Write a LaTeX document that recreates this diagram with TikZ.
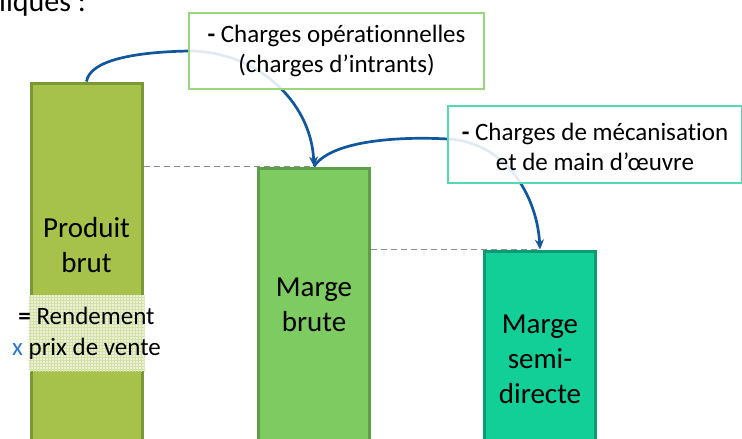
\documentclass[tikz,border=0pt]{standalone}
\usepackage{fontspec}
\setmainfont{Carlito}[Ligatures=NoCommon]
\usetikzlibrary{arrows.meta,calc}
\definecolor{barAf}{HTML}{A6C24A}
\definecolor{barAd}{HTML}{7A9835}
\definecolor{barBf}{HTML}{7ECB62}
\definecolor{barBd}{HTML}{5F9E48}
\definecolor{barCf}{HTML}{12CF98}
\definecolor{barCd}{HTML}{0E9B74}
\definecolor{boxAd}{HTML}{9CD67C}
\definecolor{boxBd}{HTML}{55D9B2}
\definecolor{arrowc}{HTML}{10579E}
\definecolor{dashc}{HTML}{8C8C8C}
\definecolor{xblue}{HTML}{2E75D6}
\definecolor{patf}{HTML}{EBF1D4}
\definecolor{patl}{HTML}{D3E0A8}
\begin{document}
\begin{tikzpicture}[x=1pt,y=-1pt,
  barbox/.style={draw, line width=3pt, minimum width=111pt, minimum height=400pt, anchor=north, inner sep=0pt},
  bartext/.style={align=center, font=\fontsize{29}{35}\selectfont, inner sep=0pt},
  labelbox/.style={draw, line width=1.6pt, fill=white, fill opacity=0.88, text opacity=1, inner sep=0pt},
  labeltext/.style={align=center, font=\fontsize{25}{30}\selectfont, inner sep=0pt},
  flow/.style={draw=arrowc, line width=2.7pt, -{Stealth[length=10pt,width=9pt]}},
  guide/.style={draw=dashc, line width=1.7pt, dash pattern=on 6pt off 4pt}
]
\useasboundingbox (0,0) rectangle (742,439);
\clip (0,0) rectangle (742,439);

% top-left cut text
\node[anchor=base west, inner sep=0pt, font=\fontsize{30}{36}\selectfont] (toptxt) at (-1,11) {liques :};

% bars
\node[barbox, draw=barAd, fill=barAf] (b1) at (86.5,81.5) {};
\node[barbox, draw=barBd, fill=barBf] (b2) at (314,166.5) {};
\node[barbox, draw=barCd, fill=barCf] (b3) at (540,249.5) {};

% dashed guides
\draw[guide] (b1.east |- b2.north) -- (b2.north);
\draw[guide] (b2.east |- b3.north) -- (b3.north);

% patterned zone on bar 1
\begin{scope}
  \clip (28.5,295) rectangle (144.5,371);
  \fill[patf] (28.5,295) rectangle (144.5,371);
  \draw[patl, line width=0.5pt, step=3pt] (27,294) grid (147,373);
\end{scope}

% bar texts
\node[bartext] (t1) at (86.5,245) {Produit\\brut};
\node[bartext] (t2) at (314,305) {Marge\\brute};
\node[bartext] (t3) at (540,359) {Marge\\semi-\\directe};
\node[bartext, font=\fontsize{25}{31}\selectfont] (t1b) at (86.5,333) {\textbf{=} Rendement\\{\color{xblue}x} prix de vente};

% arrows (drawn below the label boxes)
\coordinate (boxAw) at (189,51);
\coordinate (boxBw) at (448,139);
\draw[flow] (b1.north) .. controls (90,60) and (135,52) .. (boxAw)
  .. controls (255,51) and (311,100) .. (b2.north);
\draw[flow] (b2.north) .. controls (330,142) and (392,136) .. (boxBw)
  .. controls (505,142) and (537,195) .. (b3.north);

% label boxes
\node[labelbox, draw=boxAd, minimum width=295pt, minimum height=76pt] (boxA) at (336.5,51) {};
\node[labeltext] (boxAt) at (boxA.center) {\textbf{-} Charges opérationnelles\\(charges d’intrants)};
\node[labelbox, draw=boxBd, minimum width=294pt, minimum height=77pt] (boxB) at (595,144.5) {};
\node[labeltext] (boxBt) at (595,147) {\textbf{-} Charges de mécanisation\\et de main d’œuvre};
\end{tikzpicture}
\end{document}
